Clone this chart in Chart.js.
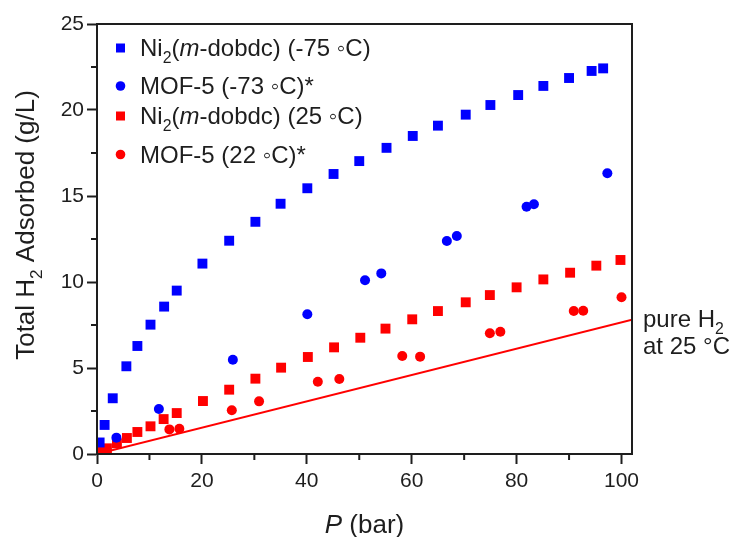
<!DOCTYPE html>
<html>
<head>
<meta charset="utf-8">
<script src="https://cdn.jsdelivr.net/npm/chart.js@4.4.0/dist/chart.umd.min.js"></script>
<style>
    html, body { margin: 0; padding: 0; background: #fff; }
    #wrap { width: 738px; height: 537px; position: relative; }
</style>
</head>
<body>
<div id="wrap"><canvas id="h2Chart"></canvas></div>
<script>
// pressure (bar) / total H2 uptake (g/L)
var niColdP = [0.5, 1.45, 3.0, 5.6, 7.7, 10.2, 12.8, 15.2, 20.1, 25.2, 30.2, 35.0, 40.1, 45.1, 50.0, 55.2, 60.2, 65.0, 70.3, 75.0, 80.3, 85.1, 90.0, 94.3, 96.5];
var niColdH2 = [0.67, 1.69, 3.24, 5.1, 6.28, 7.52, 8.57, 9.5, 11.07, 12.4, 13.5, 14.55, 15.45, 16.28, 17.03, 17.8, 18.49, 19.09, 19.73, 20.29, 20.87, 21.4, 21.86, 22.27, 22.42];

var mofColdP = [3.7, 11.8, 25.9, 40.1, 51.1, 54.2, 66.7, 68.6, 81.9, 83.3, 97.3];
var mofColdH2 = [0.95, 2.62, 5.48, 8.12, 10.1, 10.5, 12.38, 12.67, 14.38, 14.52, 16.32];

var niRoomP = [0.5, 1.9, 3.8, 5.7, 7.7, 10.2, 12.7, 15.2, 20.2, 25.2, 30.2, 35.1, 40.2, 45.2, 50.2, 55.0, 60.1, 65.0, 70.3, 74.9, 80.0, 85.1, 90.2, 95.2, 99.8];
var niRoomH2 = [0.13, 0.33, 0.62, 0.93, 1.28, 1.61, 2.03, 2.38, 3.08, 3.74, 4.38, 5.02, 5.64, 6.2, 6.76, 7.29, 7.83, 8.31, 8.82, 9.24, 9.69, 10.15, 10.54, 10.95, 11.28];

var mofRoomP = [1.0, 13.8, 15.7, 25.7, 30.9, 42.1, 46.2, 58.2, 61.6, 74.9, 76.9, 90.9, 92.7, 100.0];
var mofRoomH2 = [0.12, 1.43, 1.47, 2.54, 3.06, 4.2, 4.36, 5.7, 5.66, 7.02, 7.11, 8.31, 8.33, 9.11];

var pureP = [0, 102];
var pureH2 = [0, 7.8];

var BLUE = '#0000ff';
var RED = '#ff0000';
var INK = '#1e1e1e';
var FONT = "'Liberation Sans', Arial, Helvetica, sans-serif";

function toPoints(xs, ys) {
    return xs.map(function(x, i) { return { x: x, y: ys[i] }; });
}

// draws text made of pieces: {t, it (italic), sub (subscript)}
function drawRich(ctx, x, y, parts, size) {
    parts.forEach(function(p) {
        var s = p.sub ? size * 0.66 : size;
        ctx.font = (p.it ? 'italic ' : '') + s + 'px ' + FONT;
        ctx.fillText(p.t, x, y + (p.sub ? size * 0.3 : 0));
        x += ctx.measureText(p.t).width;
    });
    return x;
}

function richWidth(ctx, parts, size) {
    var w = 0;
    parts.forEach(function(p) {
        var s = p.sub ? size * 0.66 : size;
        ctx.font = (p.it ? 'italic ' : '') + s + 'px ' + FONT;
        w += ctx.measureText(p.t).width;
    });
    return w;
}

var legendRows = [
    { color: BLUE, shape: 'rect', base: 56, parts: [{ t: 'Ni' }, { t: '2', sub: true }, { t: '(' }, { t: 'm', it: true }, { t: '-dobdc) (-75 \u25e6C)' }] },
    { color: BLUE, shape: 'circle', base: 94, parts: [{ t: 'MOF-5 (-73 \u25e6C)*' }] },
    { color: RED, shape: 'rect', base: 124, parts: [{ t: 'Ni' }, { t: '2', sub: true }, { t: '(' }, { t: 'm', it: true }, { t: '-dobdc) (25 \u25e6C)' }] },
    { color: RED, shape: 'circle', base: 162.5, parts: [{ t: 'MOF-5 (22 \u25e6C)*' }] }
];

var decorPlugin = {
    id: 'decor',
    afterDraw: function(chart) {
        var ctx = chart.ctx;
        var area = chart.chartArea;
        var xs = chart.scales.x;
        var ys = chart.scales.y;
        ctx.save();

        // frame on all four sides
        ctx.strokeStyle = INK;
        ctx.lineWidth = 2;
        ctx.strokeRect(area.left, area.top, area.right - area.left, area.bottom - area.top);

        // minor ticks
        ctx.beginPath();
        xs.ticks.forEach(function(t) {
            if (t.value % 20 !== 0) {
                var px = xs.getPixelForValue(t.value);
                ctx.moveTo(px, area.bottom);
                ctx.lineTo(px, area.bottom + 6);
            }
        });
        ys.ticks.forEach(function(t) {
            if (t.value % 5 !== 0) {
                var py = ys.getPixelForValue(t.value);
                ctx.moveTo(area.left, py);
                ctx.lineTo(area.left - 6, py);
            }
        });
        ctx.stroke();

        ctx.fillStyle = INK;
        ctx.textBaseline = 'alphabetic';
        ctx.textAlign = 'left';

        // legend
        legendRows.forEach(function(r) {
            ctx.fillStyle = r.color;
            var cy = r.base - 8;
            if (r.shape === 'rect') {
                ctx.fillRect(116, cy - 4.5, 9, 9);
            } else {
                ctx.beginPath();
                ctx.arc(120.5, cy, 4.8, 0, Math.PI * 2);
                ctx.fill();
            }
            ctx.fillStyle = INK;
            drawRich(ctx, 140, r.base, r.parts, 24);
        });

        // y axis title, rotated
        var yTitle = [{ t: 'Total H' }, { t: '2', sub: true }, { t: ' Adsorbed (g/L)' }];
        var yw = richWidth(ctx, yTitle, 26);
        ctx.save();
        ctx.translate(34, 225 + yw / 2);
        ctx.rotate(-Math.PI / 2);
        drawRich(ctx, 0, 0, yTitle, 26);
        ctx.restore();

        // x axis title
        var xTitle = [{ t: 'P', it: true }, { t: ' (bar)' }];
        var xw = richWidth(ctx, xTitle, 26);
        drawRich(ctx, (area.left + area.right) / 2 - xw / 2, 533, xTitle, 26);

        // pure H2 note
        drawRich(ctx, 643, 327, [{ t: 'pure H' }, { t: '2', sub: true }], 24);
        drawRich(ctx, 643, 354, [{ t: 'at 25 \u00b0C' }], 24);

        ctx.restore();
    }
};

var ctx = document.getElementById('h2Chart').getContext('2d');
var h2Chart = new Chart(ctx, {
    type: 'scatter',
    data: {
        datasets: [{
            label: 'Ni2(m-dobdc) (-75 °C)',
            data: toPoints(niColdP, niColdH2),
            pointStyle: 'rect',
            pointRadius: 7,
            backgroundColor: BLUE,
            borderWidth: 0,
            order: 1
        }, {
            label: 'MOF-5 (-73 °C)*',
            data: toPoints(mofColdP, mofColdH2),
            pointStyle: 'circle',
            pointRadius: 5,
            backgroundColor: BLUE,
            borderWidth: 0,
            order: 1
        }, {
            label: 'Ni2(m-dobdc) (25 °C)',
            data: toPoints(niRoomP, niRoomH2),
            pointStyle: 'rect',
            pointRadius: 7,
            backgroundColor: RED,
            borderWidth: 0,
            order: 1
        }, {
            label: 'MOF-5 (22 °C)*',
            data: toPoints(mofRoomP, mofRoomH2),
            pointStyle: 'circle',
            pointRadius: 5,
            backgroundColor: RED,
            borderWidth: 0,
            order: 1
        }, {
            label: 'pure H2 at 25 °C',
            data: toPoints(pureP, pureH2),
            showLine: true,
            pointRadius: 0,
            borderColor: RED,
            borderWidth: 2,
            order: 5
        }]
    },
    options: {
        responsive: true,
        maintainAspectRatio: false,
        animation: false,
        layout: {
            padding: { top: 24, right: 106, left: 0, bottom: 0 }
        },
        scales: {
            x: {
                type: 'linear',
                min: 0,
                max: 102,
                afterFit: function(s) { s.height = 83; },
                border: { display: true, color: INK, width: 2 },
                grid: {
                    drawOnChartArea: false,
                    tickLength: 10,
                    tickWidth: 2,
                    tickColor: function(c) { return c.tick && c.tick.value % 20 === 0 ? INK : 'rgba(0,0,0,0)'; }
                },
                ticks: {
                    stepSize: 10,
                    includeBounds: false,
                    autoSkip: false,
                    maxRotation: 0,
                    padding: 5,
                    color: INK,
                    font: { family: FONT, size: 21 },
                    callback: function(v) { return v % 20 === 0 ? v : ''; }
                }
            },
            y: {
                type: 'linear',
                min: 0,
                max: 25,
                afterFit: function(s) { s.width = 97; },
                border: { display: true, color: INK, width: 2 },
                grid: {
                    drawOnChartArea: false,
                    tickLength: 10,
                    tickWidth: 2,
                    tickColor: function(c) { return c.tick && c.tick.value % 5 === 0 ? INK : 'rgba(0,0,0,0)'; }
                },
                ticks: {
                    stepSize: 2.5,
                    autoSkip: false,
                    padding: 3,
                    color: INK,
                    font: { family: FONT, size: 21 },
                    callback: function(v) { return v % 5 === 0 ? v : ''; }
                }
            }
        },
        plugins: {
            legend: { display: false },
            tooltip: { enabled: false }
        }
    },
    plugins: [decorPlugin]
});
</script>
</body>
</html>
